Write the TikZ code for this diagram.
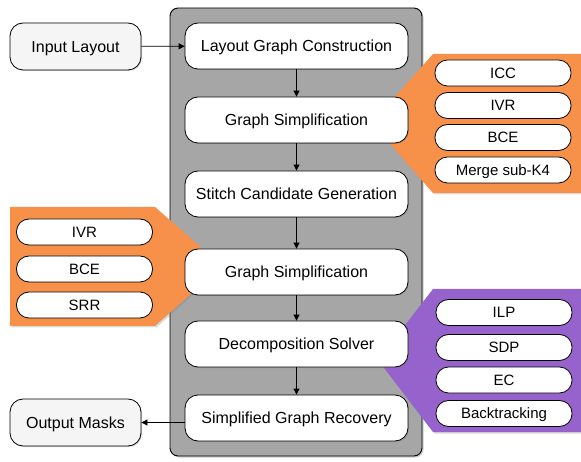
\documentclass[tikz,border=0pt]{standalone}
\usepackage{fontspec}
\setmainfont{Liberation Sans}
\usetikzlibrary{shadows,arrows.meta}
\definecolor{contgray}{RGB}{166,166,166}
\definecolor{calorange}{RGB}{247,144,72}
\definecolor{calpurple}{RGB}{150,98,203}
\definecolor{iofill}{RGB}{245,245,245}
\tikzset{
  container/.style={draw=black, line width=0.9pt, fill=contgray, rounded corners=8pt,
    minimum width=252pt, minimum height=448pt, drop shadow={shadow xshift=1.5pt, shadow yshift=-1.5pt, opacity=0.4}},
  mainbox/.style={draw=black, line width=0.8pt, fill=white, rounded corners=13pt,
    minimum width=223pt, minimum height=46pt, inner sep=0pt, font=\fontsize{16}{18}\selectfont,
    text height=11.5pt, text depth=0pt,
    drop shadow={shadow xshift=1pt, shadow yshift=-1pt, opacity=0.3}},
  iobox/.style={draw=black, line width=0.8pt, fill=iofill, rounded corners=13pt,
    minimum width=131pt, minimum height=47pt, inner sep=0pt, font=\fontsize{16}{18}\selectfont,
    text height=11.5pt, text depth=0pt,
    drop shadow={shadow xshift=1pt, shadow yshift=-1pt, opacity=0.3}},
  subbox/.style={draw=black, line width=0.8pt, fill=white, rounded corners=12.5pt,
    minimum width=136pt, minimum height=26pt, inner sep=0pt, font=\fontsize{15}{17}\selectfont,
    text height=10.7pt, text depth=0pt},
  callout/.style={draw=none, drop shadow={shadow xshift=1.5pt, shadow yshift=-1.5pt, opacity=0.3}},
  flow/.style={-{Triangle[length=6pt,width=6pt]}, line width=0.8pt, draw=black},
}
\begin{document}
\begin{tikzpicture}[x=1pt,y=-1pt]
\useasboundingbox (0,0) rectangle (581,462);
\node[container] (cont) at (296,232) {};
% callouts
\path[callout, fill=calorange] (433,54) -- (581,54) -- (581,193) -- (433,193) -- (372,123) -- cycle;
\path[callout, fill=calorange] (10,207) -- (155,207) -- (222,266) -- (155,326) -- (10,326) -- cycle;
\path[callout, fill=calpurple] (433,289) -- (581,289) -- (581,432) -- (433,432) -- (378,360) -- cycle;
% main boxes
\node[mainbox] (lgc) at (296.5,46) {Layout Graph Construction};
\node[mainbox] (gs1) at (296.5,120) {Graph Simplification};
\node[mainbox] (scg) at (296.5,194) {Stitch Candidate Generation};
\node[mainbox] (gs2) at (296.5,272) {Graph Simplification};
\node[mainbox] (ds) at (296.5,344) {Decomposition Solver};
\node[mainbox] (sgr) at (296.5,418) {Simplified Graph Recovery};
% io boxes
\node[iobox] (in) at (75.5,46.5) {Input Layout};
\node[iobox] (out) at (75.5,422.5) {Output Masks};
% sub boxes
\node[subbox] (icc) at (503,73) {ICC};
\node[subbox] (ivr1) at (503,105.5) {IVR};
\node[subbox] (bce1) at (503,137.5) {BCE};
\node[subbox] (msk) at (503,170) {Merge sub-K4};
\node[subbox] (ivr2) at (84.5,232) {IVR};
\node[subbox] (bce2) at (84.5,269) {BCE};
\node[subbox] (srr) at (84.5,305) {SRR};
\node[subbox] (ilp) at (504,312.5) {ILP};
\node[subbox] (sdp) at (504,347.5) {SDP};
\node[subbox] (ec) at (504,380) {EC};
\node[subbox] (bt) at (504,413.5) {Backtracking};
% arrows
\draw[flow] (in) -- (lgc);
\draw[flow] (lgc) -- (gs1);
\draw[flow] (gs1) -- (scg);
\draw[flow] (scg) -- (gs2);
\draw[flow] (gs2) -- (ds);
\draw[flow] (ds) -- (sgr);
\draw[flow] (sgr.west |- out) -- (out);
\end{tikzpicture}
\end{document}
